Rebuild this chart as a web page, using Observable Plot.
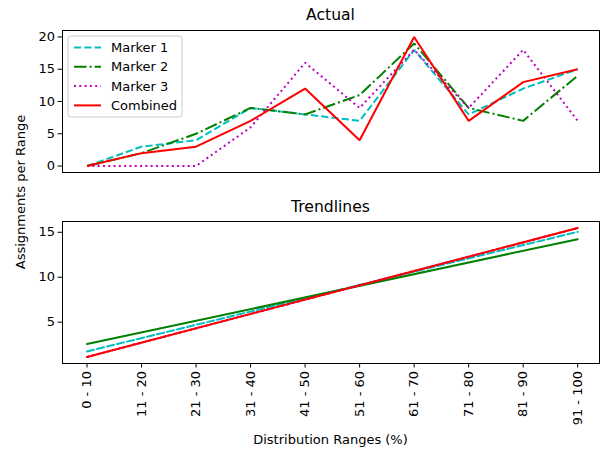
<!DOCTYPE html>
<html>
<head>
<meta charset="utf-8">
<script src="https://cdn.jsdelivr.net/npm/d3@7"></script>
<script src="https://cdn.jsdelivr.net/npm/@observablehq/plot@0.6"></script>
<style>
  html, body { margin: 0; padding: 0; background: #fff; }
  #wrap { position: relative; width: 600px; height: 452px; font-family: "DejaVu Sans", sans-serif; color: #000; }
  #wrap > * { position: absolute; }
  .title { width: 537px; left: 62px; text-align: center; font-size: 15.6px; }
  #ylabel { left: 20px; top: 192px; transform: translate(-50%, -50%) rotate(-90deg); font-size: 13px; white-space: nowrap; }
  #xlabel { left: 62px; width: 537px; top: 432px; text-align: center; font-size: 13px; }
</style>
</head>
<body>
<div id="wrap">
  <div class="title" style="top:6px">Actual</div>
  <div class="title" style="top:198px">Trendlines</div>
  <div id="ylabel">Assignments per Range</div>
  <div id="xlabel">Distribution Ranges (%)</div>
</div>
<script>
const ranges = ["0 - 10", "11 - 20", "21 - 30", "31 - 40", "41 - 50", "51 - 60", "61 - 70", "71 - 80", "81 - 90", "91 - 100"];
const seriesNames = ["Marker 1", "Marker 2", "Marker 3", "Combined"];
const marker1 = [0, 3, 4, 9, 8, 7, 18, 8, 12, 15];
const marker2 = [0, 2, 5, 9, 8, 11, 19, 9, 7, 14];
const marker3 = [0, 0, 0, 6, 16, 9, 18, 9, 18, 7];
const combined = [0, 2, 3, 7, 12, 4, 20, 7, 13, 15];
const actualTicks = [0, 5, 10, 15, 20];
const trendTicks = [5, 10, 15];

const seriesValues = [marker1, marker2, marker3, combined];
const colors = ["#00bfbf", "#008000", "#bf00bf", "#ff0000"];
const dashes = ["7.2,3.1", "12.5,3.1,2,3.1", "2,3.3", null];
const trendDashes = ["7.2,3.1", null, "2,3.3", null];

const series = seriesNames.map((name, k) => ({
  name, color: colors[k], dash: dashes[k], trendDash: trendDashes[k],
  data: seriesValues[k].map((v, i) => ({i, v, name}))
}));

const font = "DejaVu Sans, sans-serif";
const wrap = document.getElementById("wrap");
const xDomain = [-0.45, 9.4];

const topPlot = Plot.plot({
  width: 600, height: 180,
  marginLeft: 62, marginRight: 1, marginTop: 30, marginBottom: 8,
  style: {fontFamily: font, fontSize: "13px", color: "#000", background: "transparent"},
  x: {domain: xDomain, axis: null},
  y: {domain: [-1, 21]},
  marks: [
    Plot.axisY({ticks: actualTicks, tickSize: 4.5, tickPadding: 3, label: null}),
    ...series.map(s => Plot.line(s.data, {
      x: "i", y: "v", stroke: s.color, strokeWidth: 2, strokeDasharray: s.dash, strokeLinejoin: "miter", strokeLinecap: "butt"
    })),
    Plot.frame({stroke: "#000", strokeWidth: 1})
  ]
});
topPlot.style.left = "0px"; topPlot.style.top = "0px";
wrap.appendChild(topPlot);

const bottomPlot = Plot.plot({
  width: 600, height: 272,
  marginLeft: 62, marginRight: 1, marginTop: 41, marginBottom: 89,
  style: {fontFamily: font, fontSize: "13px", color: "#000", background: "transparent"},
  x: {domain: xDomain},
  y: {domain: [0.4, 16.2]},
  marks: [
    Plot.axisY({ticks: trendTicks, tickSize: 4.5, tickPadding: 3, label: null}),
    Plot.axisX({ticks: d3.range(ranges.length), tickFormat: i => ranges[i], tickRotate: -90, tickSize: 4.5, tickPadding: 3, label: null}),
    ...series.map(s => Plot.linearRegressionY(s.data, {
      x: "i", y: "v", stroke: s.color, strokeWidth: 2, strokeDasharray: s.trendDash, ci: 0
    })),
    Plot.frame({stroke: "#000", strokeWidth: 1})
  ]
});
bottomPlot.style.left = "0px"; bottomPlot.style.top = "180px";
wrap.appendChild(bottomPlot);

// Legend
const lg = d3.create("svg").attr("width", 116).attr("height", 83)
  .style("left", "67px").style("top", "35px").style("font-family", font).style("font-size", "13px");
lg.append("rect").attr("x", 1).attr("y", 1).attr("width", 114).attr("height", 81).attr("rx", 3)
  .attr("fill", "#fff").attr("fill-opacity", 0.8).attr("stroke", "#ccc").attr("stroke-width", 1);
const rows = lg.selectAll("g").data(series).join("g")
  .attr("transform", (d, k) => `translate(0,${12.5 + k * 19.3})`);
rows.append("line").attr("x1", 7).attr("x2", 34).attr("y1", 0).attr("y2", 0)
  .attr("stroke", d => d.color).attr("stroke-width", 2).attr("stroke-dasharray", d => d.dash);
rows.append("text").attr("x", 44).attr("y", 0).attr("dy", "0.35em").attr("fill", "#000").text(d => d.name);
wrap.appendChild(lg.node());
</script>
</body>
</html>
